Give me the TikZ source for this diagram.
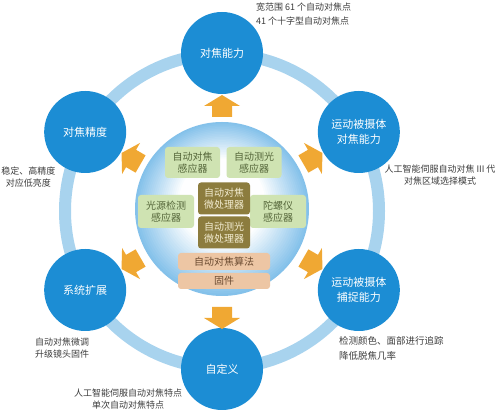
\documentclass[tikz,border=0pt]{standalone}
\usepackage{fontspec}
\newfontfamily\cjk{Noto Sans CJK SC}
\usepackage{tikz}
\usetikzlibrary{calc}
\definecolor{Ring}{HTML}{A8D3EE}
\definecolor{Disc}{HTML}{1C8DD4}
\definecolor{Sky}{HTML}{84C1EA}
\definecolor{Amber}{HTML}{F0A833}
\definecolor{Leaf}{HTML}{CFE3B2}
\definecolor{LeafText}{HTML}{55663A}
\definecolor{Olive}{HTML}{8C7C3E}
\definecolor{OliveText}{HTML}{F3EDD2}
\definecolor{Peach}{HTML}{EDC6A4}
\definecolor{PeachText}{HTML}{6A4A30}
\definecolor{Note}{HTML}{3C3C3C}
\tikzset{
  disc/.style={circle, fill=Disc, minimum size=82pt, inner sep=0pt, align=center,
               text=white, font=\cjk\fontsize{11}{14.5}\selectfont},
  flow/.pic={\fill[Amber] (-11,-10) -- (0,-10) -- (0,-18) -- (11,0) -- (0,18)
               -- (0,10) -- (-11,10) -- cycle;},
  part/.style={rounded corners=3pt, align=center, inner sep=0pt,
               font=\cjk\fontsize{10}{12.5}\selectfont},
  sensor/.style={part, fill=Leaf, text=LeafText, minimum width=55pt, minimum height=31pt},
  chip/.style={part, fill=Olive, text=OliveText, minimum width=52pt, minimum height=32pt},
  soft/.style={part, fill=Peach, text=PeachText, minimum width=92pt, minimum height=17pt},
  note/.style={text=Note, inner sep=0pt, font=\cjk\fontsize{9}{12}\selectfont},
}
\begin{document}
\begin{tikzpicture}[x=1pt,y=1pt]
  \useasboundingbox (0,0) rectangle (500,411);
  \coordinate (hub) at (222,200);
  \draw[Ring, line width=12pt] (hub) circle[radius=157];
  % outer ring of abilities
  \node[disc] (focus) at ([shift={(90:158)}]hub) {对焦能力};
  \node[disc] (precision) at ([shift={(150:158)}]hub) {对焦精度};
  \node[disc] (moving) at ([shift={(30:158)}]hub) {运动被摄体\\对焦能力};
  \node[disc] (expand) at ([shift={(210:158)}]hub) {系统扩展};
  \node[disc] (capture) at ([shift={(330:158)}]hub) {运动被摄体\\捕捉能力};
  \node[disc] (custom) at ([shift={(270:158)}]hub) {自定义};
  % core sphere, faded from the rim inwards
  \node[circle, minimum size=174pt, inner sep=0pt, fill=white] (core) at (222,202) {};
  \foreach \i in {0,...,22}{
    \pgfmathsetmacro\mix{100-4.5*\i}
    \fill[Sky!\mix!white] ([yshift={0.35*\i}]core.center) circle[radius={87-2*\i}];
  }
  \pic[rotate=90] at ([shift={(90:105)}]hub) {flow};
  \pic[rotate=150] at ([shift={(150:105)}]hub) {flow};
  \pic[rotate=30] at ([shift={(30:105)}]hub) {flow};
  \pic[rotate=210] at ([shift={(210:105)}]hub) {flow};
  \pic[rotate=330] at ([shift={(330:105)}]hub) {flow};
  \pic[rotate=270] at ([shift={(270:107)}]hub) {flow};
  \node[sensor] (afSense) at (192.5,248.5) {自动对焦\\感应器};
  \node[sensor] (aeSense) at (254,248.5) {自动测光\\感应器};
  \node[sensor, minimum width=56pt, minimum height=33pt] (lightSense) at (166,199.5) {光源检测\\感应器};
  \node[sensor, minimum width=56pt, minimum height=33pt] (gyroSense) at (278,199.5) {陀螺仪\\感应器};
  \node[chip] (afCpu) at (224,212.5) {自动对焦\\微处理器};
  \node[chip] (aeCpu) at (224,178.5) {自动测光\\微处理器};
  \node[soft] (afAlgo) at (224,149.5) {自动对焦算法};
  \node[soft, minimum height=16pt] (firmware) at (224,130) {固件};
  % notes
  \node[note, anchor=west, align=left, font=\cjk\fontsize{9}{13.3}\selectfont] (focusNote) at (256,397) {宽范围 61 个自动对焦点\\41 个十字型自动对焦点};
  \node[note, align=center] (precisionNote) at (28.5,233.5) {稳定、高精度\\对应低亮度};
  \node[note, align=center] (movingNote) at (440,235.5) {人工智能伺服自动对焦 III 代\\对焦区域选择模式};
  \node[note, anchor=west, align=left, font=\cjk\fontsize{9.5}{15}\selectfont] (captureNote) at (339,62.5) {检测颜色、面部进行追踪\\降低脱焦几率};
  \node[note, anchor=west, align=left] (expandNote) at (35,62.5) {自动对焦微调\\升级镜头固件};
  \node[note, align=center] (customNote) at (128,12) {人工智能伺服自动对焦特点\\单次自动对焦特点};
\end{tikzpicture}
\end{document}
